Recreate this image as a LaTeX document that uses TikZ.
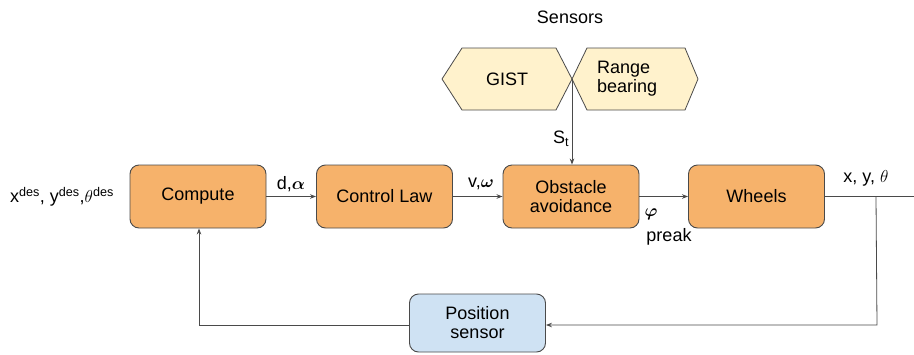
\documentclass[tikz,border=0pt]{standalone}
\usepackage{amsmath}
\usepackage{bm}
\usepackage{fontspec}
\setmainfont{Liberation Sans}
\usetikzlibrary{arrows.meta}
\definecolor{boxorange}{HTML}{F6B26B}
\definecolor{hexfill}{HTML}{FFF2CC}
\definecolor{posfill}{HTML}{CFE2F3}
\definecolor{edgegray}{HTML}{4A4A4A}
\begin{document}
\begin{tikzpicture}[x=1pt,y=-1pt,
  font=\fontsize{18}{21}\selectfont,
  blockbox/.style={draw=edgegray,line width=0.9pt,rounded corners=9pt,fill=boxorange,
    minimum width=136pt,minimum height=63pt,inner sep=0pt,align=center},
  posbox/.style={blockbox,fill=posfill,minimum height=58pt},
  hexshape/.style={draw=edgegray,line width=0.8pt,fill=hexfill},
  conn/.style={draw=edgegray,line width=0.8pt},
  arr/.style={conn,-{Stealth[length=6pt,width=4.5pt]}},
  lbl/.style={inner sep=0pt}]
\useasboundingbox (0,0) rectangle (914,354);

% hexagons
\path[hexshape] (442,79) -- (462,48) -- (556,48) -- (572,79) -- (556,110) -- (462,110) -- cycle;
\path[hexshape] (572,79) -- (587,48) -- (685,48) -- (698,79) -- (685,110) -- (587,110) -- cycle;
\node[lbl] (gist) at (507,79) {GIST};
\node[lbl,align=left,anchor=west] (range) at (597,79) {Range\\[-2pt]bearing};
\node[lbl] (sensors) at (570,17) {Sensors};
\coordinate (sj) at (572,79);

% blocks
\node[blockbox] (compute) at (198,196.5) {Compute};
\node[blockbox] (control) at (384.5,196.5) {Control Law};
\node[blockbox] (obst) at (571,196.5) {Obstacle\\[-2pt]avoidance};
\node[blockbox] (wheels) at (756.5,196.5) {Wheels};
\node[posbox] (pos) at (477.5,323) {Position\\[-2pt]sensor};

% input
\node[lbl] (input) at (62,197) {x$^{\text{des}}$, y$^{\text{des}}$,$\theta^{\text{des}}$};

% connectors
\draw[arr] (compute) -- (control);
\draw[arr] (control) -- (obst);
\draw[arr] (obst) -- (wheels);
\draw[arr] (sj) -- (sj |- obst.north);
\coordinate (outend) at (914,196.5);
\coordinate (br) at (876,196.5);
\coordinate (brd) at (877,325);
\coordinate (fbl) at (199,325);
\draw[conn] (wheels) -- (outend);
\draw[arr] (br) -- (brd) -- (brd -| pos.east);
\draw[arr] (pos.west |- fbl) -- (fbl) -- (fbl |- compute.south);

% labels
\node[lbl] (ld) at (291,184) {d,$\bm{\alpha}$};
\node[lbl] (lv) at (481,184) {v,$\bm{\omega}$};
\node[lbl] (ls) at (561,139) {S$_{\text{t}}$};
\node[lbl] (lphi) at (651,214) {$\bm{\varphi}$};
\node[lbl] (lpreak) at (669,237) {preak};
\node[lbl] (lxy) at (866,178) {x, y, $\theta$};
\end{tikzpicture}
\end{document}
